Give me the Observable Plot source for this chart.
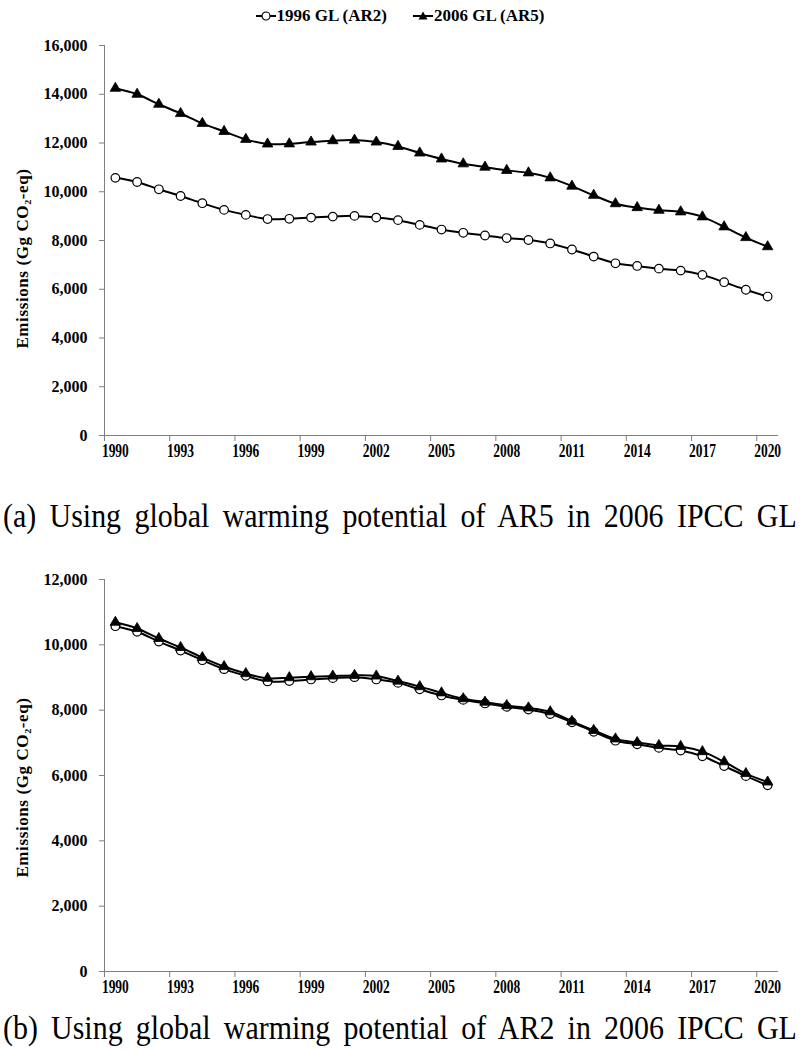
<!DOCTYPE html>
<html>
<head>
<meta charset="utf-8">
<script src="https://cdn.jsdelivr.net/npm/d3@7"></script>
<script src="https://cdn.jsdelivr.net/npm/@observablehq/plot@0.6"></script>
<style>
  html, body { margin: 0; padding: 0; background: #fff; }
  body { width: 800px; height: 1050px; position: relative; overflow: hidden;
         font-family: "Liberation Serif", "Times New Roman", serif; color: #000; }
  .legend { position: absolute; left: 0; width: 800px; height: 20px; display: flex;
            justify-content: center; align-items: center; font-weight: bold; font-size: 17px; }
  .legend .item { display: flex; align-items: center; margin: 0 13px; white-space: nowrap; }
  .legend svg { display: block; margin-right: 1px; }
  .caption { position: absolute; left: 3px; width: 902px; height: 38px; line-height: 38px;
             font-size: 34px; text-align: justify; text-align-last: justify; white-space: nowrap;
             transform: scaleX(0.88); transform-origin: 0 0; }
  .chart { position: absolute; left: 0; }
</style>
</head>
<body>
<script>
// ---- data ----
const years = [1990, 1991, 1992, 1993, 1994, 1995, 1996, 1997, 1998, 1999, 2000,
               2001, 2002, 2003, 2004, 2005, 2006, 2007, 2008, 2009, 2010,
               2011, 2012, 2013, 2014, 2015, 2016, 2017, 2018, 2019, 2020];
const labelYears = [1990, 1993, 1996, 1999, 2002, 2005, 2008, 2011, 2014, 2017, 2020];
const boundaryTicks = [1989.5, 1992.5, 1995.5, 1998.5, 2001.5, 2004.5, 2007.5, 2010.5, 2013.5, 2016.5, 2019.5];
const yTicksA = [0, 2000, 4000, 6000, 8000, 10000, 12000, 14000, 16000];
const yTicksB = [0, 2000, 4000, 6000, 8000, 10000, 12000];

const gl1996AR2 = [10570, 10400, 10100, 9825, 9530, 9255, 9050, 8880, 8890, 8940, 8980,
                   9010, 8940, 8835, 8640, 8450, 8315, 8205, 8100, 8020, 7880,
                   7630, 7340, 7065, 6955, 6845, 6765, 6590, 6290, 5980, 5700];
const gl2006AR5 = [14245, 14000, 13590, 13210, 12805, 12475, 12150, 11960, 11965, 12040, 12095,
                   12120, 12040, 11860, 11590, 11345, 11145, 11010, 10875, 10775, 10570,
                   10230, 9855, 9510, 9350, 9240, 9175, 8970, 8560, 8120, 7745];
const gl2006AR2 = [10690, 10500, 10195, 9920, 9610, 9335, 9120, 8975, 8995, 9025, 9045,
                   9065, 9045, 8890, 8720, 8530, 8350, 8245, 8140, 8070, 7950,
                   7660, 7380, 7120, 7010, 6920, 6890, 6730, 6420, 6060, 5800];

const seriesA = ["1996 GL (AR2)", "2006 GL (AR5)"];
const seriesB = ["1996 GL (AR2)", "2006 GL (AR2)"];
const yTitle = "Emissions (Gg CO\u2082-eq)";
const captions = ["(a) Using global warming potential of AR5 in 2006 IPCC GL",
                  "(b) Using global warming potential of AR2 in 2006 IPCC GL"];

// ---- helpers ----
const AXIS = "#7f7f7f";

function legend(names, top) {
  const div = document.createElement("div");
  div.className = "legend";
  div.style.top = top + "px";
  const glyphs = [
    '<svg width="20" height="14"><line x1="0" y1="7" x2="20" y2="7" stroke="#000" stroke-width="2"/><circle cx="10" cy="7" r="4" fill="#fff" stroke="#000" stroke-width="1.2"/></svg>',
    '<svg width="20" height="14"><line x1="0" y1="7" x2="20" y2="7" stroke="#000" stroke-width="2"/><path d="M10,2.5 L14.5,10.5 L5.5,10.5 Z" fill="#000"/></svg>'
  ];
  names.forEach((n, i) => {
    const it = document.createElement("div");
    it.className = "item";
    it.innerHTML = glyphs[i];
    const s = document.createElement("span");
    s.textContent = n;
    it.appendChild(s);
    div.appendChild(it);
  });
  document.body.appendChild(div);
}

function caption(text, top) {
  const div = document.createElement("div");
  div.className = "caption";
  div.style.top = top + "px";
  div.textContent = text;
  document.body.appendChild(div);
}

function chart({circ, tri, yMax, yTicks, top, marginTop, innerH, marginBottom, titleDy}) {
  const rowsC = years.map((year, i) => ({year, v: circ[i]}));
  const rowsT = years.map((year, i) => ({year, v: tri[i]}));
  const svg = Plot.plot({
    width: 800,
    height: marginTop + innerH + marginBottom,
    marginTop, marginBottom,
    marginLeft: 104, marginRight: 22,
    x: {domain: [1989.5, 2020.5]},
    y: {domain: [0, yMax]},
    style: {fontFamily: "'Liberation Serif', 'Times New Roman', serif", color: "#000", background: "#fff", overflow: "visible"},
    marks: [
      Plot.ruleX([1989.5], {stroke: AXIS, strokeWidth: 1}),
      Plot.ruleY([0], {stroke: AXIS, strokeWidth: 1}),
      Plot.axisY({ticks: yTicks, tickSize: 5, tickPadding: 12, tickFormat: d3.format(","),
                  stroke: AXIS, fill: "#000", fontSize: 16, fontWeight: "bold", label: null}),
      Plot.axisX({ticks: boundaryTicks, tickSize: 6, tickFormat: () => "", stroke: AXIS, label: null}),
      Plot.axisX({ticks: labelYears, tickSize: 0, tickPadding: 9, tickFormat: d => String(d),
                  fill: "#000", fontSize: 18, fontWeight: "bold", label: null}),
      Plot.line(rowsC, {x: "year", y: "v", curve: "catmull-rom", stroke: "#000", strokeWidth: 2}),
      Plot.line(rowsT, {x: "year", y: "v", curve: "catmull-rom", stroke: "#000", strokeWidth: 2}),
      Plot.dot(rowsC, {x: "year", y: "v", symbol: "circle", r: 4.3, fill: "#fff", stroke: "#000", strokeWidth: 1.2}),
      Plot.dot(rowsT, {x: "year", y: "v", symbol: "triangle", r: 3.9, fill: "#000", stroke: "#000", strokeWidth: 0.8}),
      Plot.text([yTitle], {frameAnchor: "left", textAnchor: "middle", lineAnchor: "middle",
                           rotate: -90, dx: -82, dy: titleDy,
                           fontSize: 17, fontWeight: "bold", fill: "#000"})
    ]
  });
  svg.classList.add("chart");
  svg.style.top = top + "px";
  // narrow, tall year labels as in the reference
  svg.querySelectorAll('g[aria-label="x-axis tick label"] text').forEach(t => {
    const tr = t.getAttribute("transform") || "";
    t.setAttribute("transform", tr + " scale(0.75,1)");
  });
  svg.querySelectorAll('g[aria-label="text"] text').forEach(t => {
    t.style.letterSpacing = "0.6px";
  });
  document.body.appendChild(svg);
}

// ---- layout ----
legend(seriesA, 6);
chart({circ: gl1996AR2, tri: gl2006AR5, yMax: 16000, yTicks: yTicksA,
       top: 30, marginTop: 15, innerH: 390, marginBottom: 40, titleDy: 18});
caption(captions[0], 497);

legend(seriesB, 558);
chart({circ: gl1996AR2, tri: gl2006AR2, yMax: 12000, yTicks: yTicksB,
       top: 560, marginTop: 19, innerH: 392, marginBottom: 40, titleDy: 12});
caption(captions[1], 1009);
</script>
</body>
</html>
